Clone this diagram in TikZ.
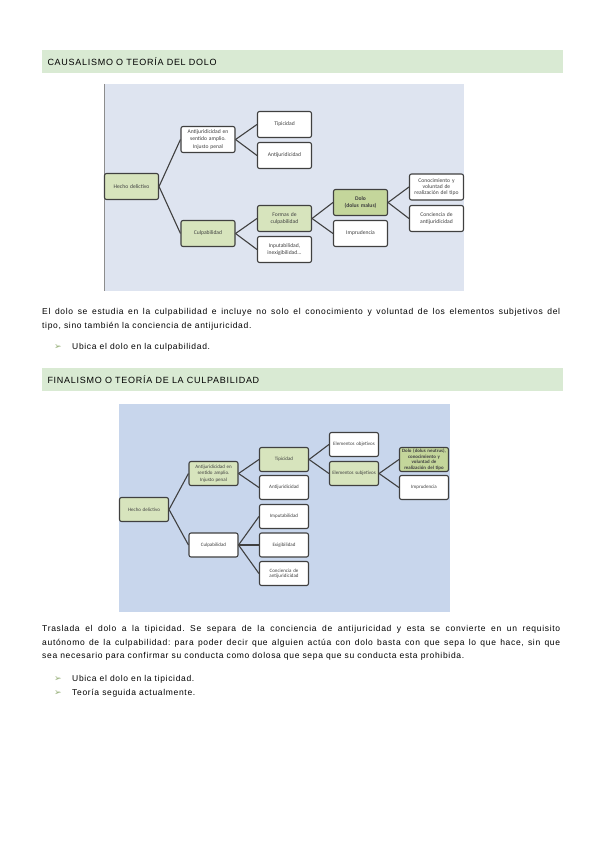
\documentclass[tikz,border=0pt]{standalone}
\usepackage{fontspec}
\setmainfont{Liberation Sans}[LetterSpace=8]
\newfontfamily\boxfont{Carlito}
\newfontfamily\symfont{DejaVu Sans}
\definecolor{headgreen}{RGB}{217,234,211}
\definecolor{bgone}{RGB}{222,228,240}
\definecolor{bgtwo}{RGB}{200,214,236}
\definecolor{nodegreen}{RGB}{215,228,189}
\definecolor{dologreen}{RGB}{196,214,155}
\definecolor{edgegray}{RGB}{64,64,64}
\definecolor{arrowgreen}{RGB}{150,175,120}
\frenchspacing

\begin{document}
\begin{tikzpicture}[x=1pt, y=-1pt,
    header/.style={fill=headgreen, draw=none},
    headtext/.style={anchor=west, font=\fontsize{9}{10}\selectfont, text=black},
    box/.style={draw=edgegray, line width=1.1pt, rounded corners=2pt, fill=white,
      minimum width=#1, align=center, inner sep=1pt, text=black!75},
    box/.default=54pt,
    boxone/.style={box=54pt, minimum height=26pt, text width=52pt,
      font=\boxfont\fontsize{5.6}{6.4}\selectfont},
    boxtwo/.style={box=49pt, minimum height=24pt, text width=47pt,
      font=\boxfont\fontsize{5}{5.6}\selectfont},
    green/.style={fill=nodegreen},
    dolo/.style={fill=dologreen, font=\boxfont\bfseries\fontsize{5.6}{6.4}\selectfont},
    dolotwo/.style={fill=dologreen, font=\boxfont\bfseries\fontsize{4.9}{5.4}\selectfont},
    link/.style={draw=edgegray, line width=1.1pt},
    bodytext/.style={anchor=north west, text width=518pt, align=justify, inner sep=0pt,
      font=\fontsize{8.5}{13.3}\selectfont, text=black},
    bullet/.style={anchor=west, inner sep=0pt, font=\fontsize{8.5}{10}\selectfont, text=black},
    bulletmark/.style={anchor=west, inner sep=0pt, text=arrowgreen, font=\symfont\fontsize{9}{10}\selectfont}]
  % page
  \fill[white] (0,0) rectangle (600,848);
  \useasboundingbox (0,0) rectangle (600,848);

  % section 1
  \fill[header] (42,50) rectangle (563,73);
  \node[headtext] (head1) at (44,62) {CAUSALISMO O TEORÍA DEL DOLO};
  \fill[bgone] (104,84) rectangle (464,291);
  \draw[edgegray!60, line width=0.6pt] (104,84) -- (104,291);

  \node[boxone, green] (hecho1) at (131.5,186.5) {Hecho delictivo};
  \node[boxone] (antij1) at (208,139.5) {Antijuridicidad en\\ sentido amplio.\\[1.5pt] Injusto penal};
  \node[boxone, green] (culp1) at (208,233.5) {Culpabilidad};
  \node[boxone] (tip1) at (284.5,124.5) {Tipicidad};
  \node[boxone] (anti1) at (284.5,155.5) {Antijuridicidad};
  \node[boxone, green] (formas1) at (284.5,218.5) {Formas de\\ culpabilidad};
  \node[boxone] (inimp1) at (284.5,249.5) {Inputabilidad,\\ inexigibilidad...};
  \node[boxone, dolo] (dolo1) at (360.5,202.5) {Dolo\\[1.5pt] (dolus malus)};
  \node[boxone] (impr1) at (360.5,233.5) {Imprudencia};
  \node[boxone] (conoc1) at (436.5,187) {Conocimiento y\\ voluntad de\\ realización del tipo};
  \node[boxone] (concie1) at (436.5,218.5) {Conciencia de\\ antijuridicidad};

  \foreach \a/\b in {hecho1/antij1, hecho1/culp1, antij1/tip1, antij1/anti1,
      culp1/formas1, culp1/inimp1, formas1/dolo1, formas1/impr1,
      dolo1/conoc1, dolo1/concie1}
    \draw[link] (\a.east) -- (\b.west);

  \node[bodytext] (text1) at (42,308.5) {El dolo se estudia en la culpabilidad e incluye no solo el conocimiento y voluntad de los elementos subjetivos del\linebreak tipo, sino también la conciencia de antijuricidad.};
  \node[bulletmark] (mark1) at (54,347) {➢};
  \node[bullet] (item1) at (72,347) {Ubica el dolo en la culpabilidad.};

  % section 2
  \fill[header] (42,368) rectangle (563,391);
  \node[headtext] (head2) at (44,380) {FINALISMO O TEORÍA DE LA CULPABILIDAD};
  \fill[bgtwo] (119,404) rectangle (450,612);

  \node[boxtwo, green] (hecho2) at (144,509.5) {Hecho delictivo};
  \node[boxtwo, green] (antij2) at (213.5,473.5) {Antijuridicidad en\\ sentido amplio.\\[1.5pt] Injusto penal};
  \node[boxtwo] (culp2) at (213.5,545) {Culpabilidad};
  \node[boxtwo, green] (tip2) at (284,459.5) {Tipicidad};
  \node[boxtwo] (anti2) at (284,487.5) {Antijuridicidad};
  \node[boxtwo] (imput2) at (284,516.5) {Imputabilidad};
  \node[boxtwo] (exig2) at (284,545) {Exigibilidad};
  \node[boxtwo] (concie2) at (284,573.5) {Conciencia de\\ antijuridicidad};
  \node[boxtwo] (elobj2) at (354,444.5) {Elementos objetivos};
  \node[boxtwo, green] (elsub2) at (354,473.5) {Elementos subjetivos};
  \node[boxtwo, dolotwo] (dolo2) at (424,459.5) {Dolo (dolus neutrus),\\ conocimiento y\\ voluntad de\\ realización del tipo};
  \node[boxtwo] (impr2) at (424,487.5) {Imprudencia};

  \foreach \a/\b in {hecho2/antij2, hecho2/culp2, antij2/tip2, antij2/anti2,
      culp2/imput2, culp2/exig2, culp2/concie2, tip2/elobj2, tip2/elsub2,
      elsub2/dolo2, elsub2/impr2}
    \draw[link] (\a.east) -- (\b.west);

  \node[bodytext] (text2) at (42,625.5) {Traslada el dolo a la tipicidad. Se separa de la conciencia de antijuricidad y esta se convierte en un requisito\linebreak autónomo de la culpabilidad: para poder decir que alguien actúa con dolo basta con que sepa lo que hace, sin que\linebreak sea necesario para confirmar su conducta como dolosa que sepa que su conducta esta prohibida.};
  \node[bulletmark] (mark2) at (54,679) {➢};
  \node[bullet] (item2) at (72,679) {Ubica el dolo en la tipicidad.};
  \node[bulletmark] (mark3) at (54,693.5) {➢};
  \node[bullet] (item3) at (72,693.5) {Teoría seguida actualmente.};
\end{tikzpicture}
\end{document}
